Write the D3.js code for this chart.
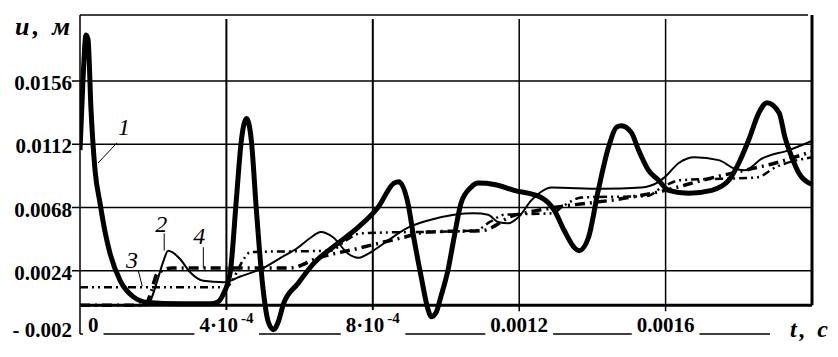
<!DOCTYPE html>
<html>
<head>
<meta charset="utf-8" />
<script src="https://cdn.jsdelivr.net/npm/d3@7"></script>
<style>
  body { margin: 0; background: #fff; }
  svg { display: block; background: #fff; }
  .lbl { font-family: "Liberation Serif", "Times New Roman", serif; font-weight: bold; font-size: 21px; fill: #000; }
  .ttl { font-family: "Liberation Serif", "Times New Roman", serif; font-weight: bold; font-style: italic; fill: #000; }
  .num { font-family: "Liberation Serif", "Times New Roman", serif; font-style: italic; font-size: 24px; fill: #000; }
</style>
</head>
<body>
<svg id="chart" width="838" height="357"></svg>
<script>
// tick values
const tTicks = [0, 0.0004, 0.0008, 0.0012, 0.0016];
const tTickText = ["0", "4\u00b710", "8\u00b710", "0.0012", "0.0016"];
const tTickSup = ["", "-4", "-4", "", ""];
const uTicks = [0.0024, 0.0068, 0.0112, 0.0156];
const uBottom = -0.002;

// curve 1 (thick solid)
const t1 = [0, 0.0000082, 0.0000164, 0.0000219, 0.0000301, 0.0000411, 0.0000548, 0.0000685, 0.0000822, 0.00011,
  0.000145, 0.000184, 0.000274, 0.000356, 0.000375, 0.000392, 0.000411, 0.000427, 0.000441, 0.000455,
  0.000468, 0.000482, 0.000499, 0.000515, 0.000529, 0.000541, 0.000556, 0.000595, 0.000638, 0.000704,
  0.000759, 0.000814, 0.000858, 0.000871, 0.000896, 0.000912, 0.000932, 0.000951, 0.000959, 0.000973,
  0.000986, 0.001005, 0.001022, 0.001041, 0.001068, 0.001088, 0.001132, 0.001186, 0.00126, 0.001296,
  0.001323, 0.001351, 0.001364, 0.001389, 0.001416, 0.001444, 0.001466, 0.001479, 0.001507, 0.001526,
  0.001553, 0.001581, 0.001608, 0.001663, 0.001726, 0.001773, 0.0018, 0.001827, 0.001855, 0.001877,
  0.00191, 0.001926, 0.001945, 0.001964, 0.001992, 0.002005];
const u1 = [0.0108, 0.0157, 0.0188, 0.0185, 0.0136, 0.0094, 0.0071, 0.0051, 0.0036, 0.0017,
  0.0006, 0.0002, 0.0001, 0.0001, 0.0002, 0.0008, 0.0024, 0.0073, 0.0115, 0.0130,
  0.0115, 0.0066, 0.0014, -0.0012, -0.0017, -0.0012, 0.0001, 0.0015, 0.0029, 0.0043,
  0.0054, 0.0068, 0.0085, 0.0086, 0.0071, 0.0047, 0.0020, -0.0003, -0.0008, -0.0005,
  0.0006, 0.0024, 0.0047, 0.0071, 0.0082, 0.0085, 0.0084, 0.0080, 0.0075, 0.0066,
  0.0052, 0.0040, 0.0038, 0.0047, 0.0080, 0.0110, 0.0124, 0.0125, 0.0120, 0.0108,
  0.0094, 0.0087, 0.0080, 0.0078, 0.0080, 0.0087, 0.0099, 0.0115, 0.0134, 0.0141,
  0.0134, 0.0117, 0.0103, 0.0092, 0.0085, 0.0084];

// curve 2 (thin solid)
const t2 = [0, 0.000178, 0.000192, 0.000211, 0.000227, 0.000241, 0.000252, 0.000274, 0.000301, 0.000337,
  0.000392, 0.000438, 0.000501, 0.000548, 0.000595, 0.00063, 0.000658, 0.000693, 0.000732, 0.000759,
  0.000795, 0.000841, 0.000896, 0.000951, 0.001022, 0.001077, 0.001115, 0.001142, 0.00117, 0.001197,
  0.001233, 0.00126, 0.001288, 0.001425, 0.001534, 0.001575, 0.001597, 0.001636, 0.001679, 0.001745,
  0.001789, 0.001816, 0.001863, 0.001937, 0.002005];
const u2 = [0, 0, 0.0003, 0.0017, 0.0030, 0.0038, 0.0037, 0.0032, 0.0023, 0.0017,
  0.0016, 0.0020, 0.0026, 0.0033, 0.0040, 0.0047, 0.0051, 0.0047, 0.0036, 0.0033,
  0.0037, 0.0045, 0.0054, 0.0059, 0.0063, 0.0064, 0.0063, 0.0058, 0.0057, 0.0061,
  0.0073, 0.0079, 0.0082, 0.0081, 0.0082, 0.0085, 0.0089, 0.0099, 0.0103, 0.0101,
  0.0095, 0.0094, 0.0102, 0.0108, 0.0115];

// curve 3 (dash-dot-dot)
const t3 = [0, 0.000397, 0.000416, 0.000438, 0.000466, 0.000685, 0.000726, 0.000767, 0.00108, 0.00112,
  0.00116, 0.00129, 0.00132, 0.00137, 0.00155, 0.00159, 0.00164, 0.00185, 0.0019, 0.002];
const u3 = [0.00125, 0.00125, 0.0017, 0.0028, 0.0037, 0.0038, 0.0045, 0.0050, 0.0052, 0.0058,
  0.0063, 0.0064, 0.0069, 0.0075, 0.0076, 0.0082, 0.0087, 0.0089, 0.0096, 0.0103];

// curve 4 (heavy dash-dot)
const t4 = [0, 0.000178, 0.000195, 0.000211, 0.000252, 0.000575, 0.00065, 0.00075, 0.00088, 0.00095,
  0.0011, 0.00118, 0.00125, 0.0015, 0.0016, 0.0017, 0.0018, 0.0019, 0.002];
const u4 = [0, 0, 0.0010, 0.0022, 0.0026, 0.0026, 0.0033, 0.0039, 0.0047, 0.0051,
  0.0052, 0.0062, 0.0066, 0.0075, 0.0080, 0.0087, 0.0093, 0.0099, 0.0107];

// curve labels: text position and leader line, in data units
const noteText = ["1", "2", "3", "4"];
const noteT = [0.00012, 0.000222, 0.000142, 0.000326];
const noteU = [0.0124, 0.00564, 0.00314, 0.0048];
const leadT0 = [0.000101, 0.00023, 0.000159, 0.000337];
const leadU0 = [0.0113, 0.0050, 0.00244, 0.00404];
const leadT1 = [0.0000493, 0.00023, 0.00017, 0.000337];
const leadU1 = [0.0099, 0.0038, 0.00132, 0.00258];

const svg = d3.select("#chart");
const pLeft = 80, pRight = 812, pTop = 15, pBottom = 334;

const x = d3.scaleLinear().domain([0, 0.002]).range([pLeft, pRight]);
const y = d3.scaleLinear().domain([uBottom, 0.0202]).range([pBottom, pTop]);

svg.append("defs").append("clipPath").attr("id", "plotclip")
  .append("rect").attr("x", pLeft).attr("y", pTop).attr("width", pRight - pLeft).attr("height", pBottom - pTop);

// grid
const grid = svg.append("g");
grid.selectAll("line.h").data(uTicks).enter().append("line")
  .attr("x1", pLeft - 8).attr("x2", pRight)
  .attr("y1", d => y(d)).attr("y2", d => y(d))
  .attr("stroke", "#000").attr("stroke-width", 1.5);
grid.selectAll("line.v").data(tTicks.slice(1)).enter().append("line")
  .attr("x1", d => x(d)).attr("x2", d => x(d))
  .attr("y1", pTop + 4).attr("y2", y(0) + 6)
  .attr("stroke", "#000").attr("stroke-width", (d, i) => i < 2 ? 2 : 1.5);

// frame
grid.append("line").attr("x1", pLeft).attr("x2", pRight - 4).attr("y1", pTop).attr("y2", pTop)
  .attr("stroke", "#000").attr("stroke-width", 1.5);
grid.append("line").attr("x1", pRight).attr("x2", pRight).attr("y1", pTop).attr("y2", y(0))
  .attr("stroke", "#000").attr("stroke-width", 3);
grid.append("line").attr("x1", pLeft).attr("x2", pRight).attr("y1", y(0)).attr("y2", y(0))
  .attr("stroke", "#000").attr("stroke-width", 3);
grid.append("line").attr("x1", pLeft).attr("x2", pLeft).attr("y1", pTop).attr("y2", pBottom)
  .attr("stroke", "#000").attr("stroke-width", 1.5);
grid.append("line").attr("x1", pLeft).attr("x2", 770).attr("y1", pBottom).attr("y2", pBottom)
  .attr("stroke", "#000").attr("stroke-width", 1.5);

// curves
const line = d3.line().x(d => x(d[0])).y(d => y(d[1])).curve(d3.curveMonotoneX);
const plot = svg.append("g").attr("clip-path", "url(#plotclip)");
const series = [
  { t: t4, u: u4, w: 3.5, dash: "10,5,2,5" },
  { t: t3, u: u3, w: 2.5, dash: "8,4,2,4,2,4" },
  { t: t2, u: u2, w: 2, dash: null },
  { t: t1, u: u1, w: 5, dash: null }
];
series.forEach(s => {
  plot.append("path")
    .datum(s.t.map((t, i) => [t, s.u[i]]))
    .attr("d", line)
    .attr("fill", "none")
    .attr("stroke", "#000")
    .attr("stroke-width", s.w)
    .attr("stroke-linejoin", "round")
    .attr("stroke-dasharray", s.dash);
});

// curve labels
noteText.forEach((txt, i) => {
  svg.append("line")
    .attr("x1", x(leadT0[i])).attr("y1", y(leadU0[i]))
    .attr("x2", x(leadT1[i])).attr("y2", y(leadU1[i]))
    .attr("stroke", "#000").attr("stroke-width", 1);
  svg.append("text").attr("class", "num")
    .attr("x", x(noteT[i])).attr("y", y(noteU[i]))
    .attr("text-anchor", "middle").attr("dominant-baseline", "central")
    .text(txt);
});

// y labels
const yLab = svg.append("g");
uTicks.forEach(v => {
  yLab.append("text").attr("class", "lbl")
    .attr("x", 72).attr("y", y(v) + 2)
    .attr("text-anchor", "end").attr("dominant-baseline", "central")
    .text(v.toFixed(4));
});
yLab.append("text").attr("class", "lbl")
  .attr("x", 72).attr("y", 330)
  .attr("text-anchor", "end").attr("dominant-baseline", "central")
  .text("- 0.002");

// x labels with white background over bottom line
const xLab = svg.append("g");
tTicks.forEach((v, i) => {
  const g = xLab.append("g");
  const txt = g.append("text").attr("class", "lbl")
    .attr("x", i === 0 ? x(v) + 8 : x(v))
    .attr("y", 332)
    .attr("text-anchor", i === 0 ? "start" : "middle");
  txt.append("tspan").text(tTickText[i]);
  if (tTickSup[i]) {
    txt.append("tspan").attr("dy", -9).attr("dx", 3).style("font-size", "15px").text(tTickSup[i]);
  }
  const bb = txt.node().getBBox();
  g.insert("rect", "text")
    .attr("x", bb.x - 5).attr("y", bb.y).attr("width", bb.width + 10).attr("height", bb.height)
    .attr("fill", "#fff");
});

// axis titles
svg.append("text").attr("class", "ttl")
  .attr("x", 15).attr("y", 35).style("font-size", "26px")
  .attr("textLength", 55).attr("lengthAdjust", "spacing")
  .text("u, м");
svg.append("text").attr("class", "ttl")
  .attr("x", 790).attr("y", 337).style("font-size", "24px")
  .attr("textLength", 38).attr("lengthAdjust", "spacing")
  .text("t, с");
</script>
</body>
</html>
